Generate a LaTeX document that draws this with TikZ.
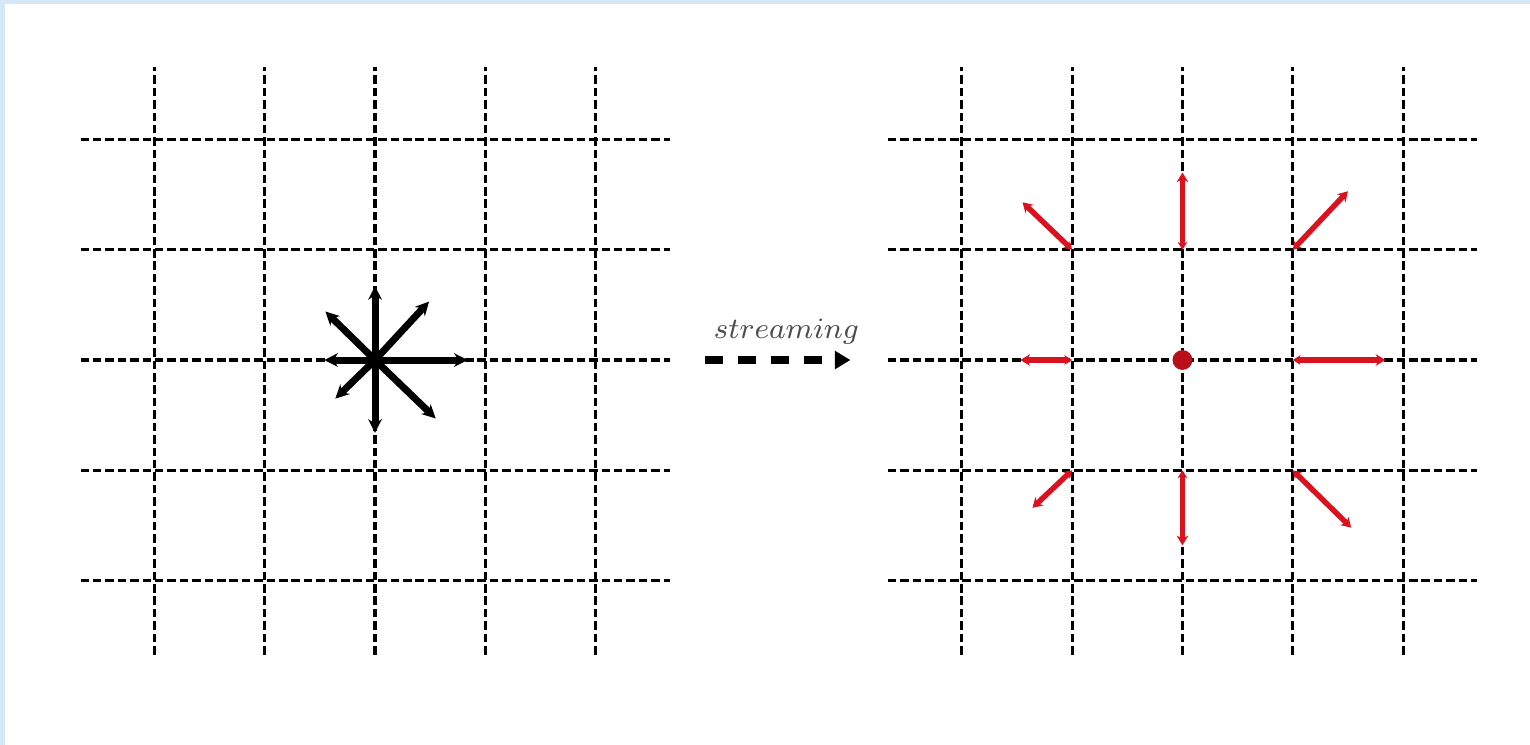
\documentclass[tikz,border=0pt]{standalone}
\usetikzlibrary{arrows.meta,calc,positioning}
\definecolor{lbmred}{RGB}{218,18,32}
\definecolor{framebl}{RGB}{212,232,250}
\tikzset{
    grid line/.style={
        black,
        line width=0.8pt,
        dash pattern=on 2.2pt off 1pt
    },
    population/.style={
        line width=1.8pt,
        -{Stealth[length=3.5pt,width=3.5pt]}
    },
    streamed/.style={
        lbmred,
        line width=1.4pt,
        {Stealth[length=2pt,width=2.5pt]}-{Stealth[length=2.5pt,width=3pt]}
    },
    streaming arrow/.style={
        line width=2pt,
        dash pattern=on 4.6pt off 3.9pt,
        -{Triangle[length=4pt,width=4.5pt]}
    }
}

\begin{document}
\begin{tikzpicture}
    \useasboundingbox (-3.40,-3.490) rectangle (10.471,3.264);
    % thin frame at top and left
    \fill[framebl] (-3.40,-3.490) rectangle (10.471,3.264);
    \fill[white] (-3.355,-3.490) rectangle (10.471,3.228);

    % the two lattices
    \foreach \cx in {0,7.32}{
        \foreach \i in {-2,...,2}{
            \draw[grid line] (\cx-2.67,\i) -- (\cx+2.67,\i);
            \draw[grid line] (\cx+\i,-2.67) -- (\cx+\i,2.66);
        }
    }
    \coordinate (pre) at (0,0);
    \coordinate (post) at (7.32,0);

    % populations before streaming
    \foreach \dx/\dy in {0.84/0, 0/0.67, -0.46/0, 0/-0.66,
                         0.49/0.53, -0.45/0.44, -0.36/-0.35, 0.55/-0.53}
        \draw[population] (pre) -- ++(\dx,\dy);

    % populations after streaming
    \foreach \ex/\ey/\dx/\dy in {1/0/0.84/0, 0/1/0/0.70, -1/0/-0.47/0, 0/-1/0/-0.68,
                                 1/1/0.50/0.53, -1/1/-0.45/0.43, -1/-1/-0.36/-0.34, 1/-1/0.53/-0.52}
        \draw[streamed] ($(post)+(\ex,\ey)$) -- ++(\dx,\dy);
    \fill[lbmred!85!black] (post) circle (0.09);

    % streaming step
    \coordinate (s0) at (2.99,0);
    \coordinate (s1) at (4.31,0);
    \draw[streaming arrow] (s0) -- (s1)
        node[midway, above=0cm, xshift=0.08cm, text=black!70, font=\footnotesize, scale=0.95] (lbl) {$streaming$};
\end{tikzpicture}
\end{document}
